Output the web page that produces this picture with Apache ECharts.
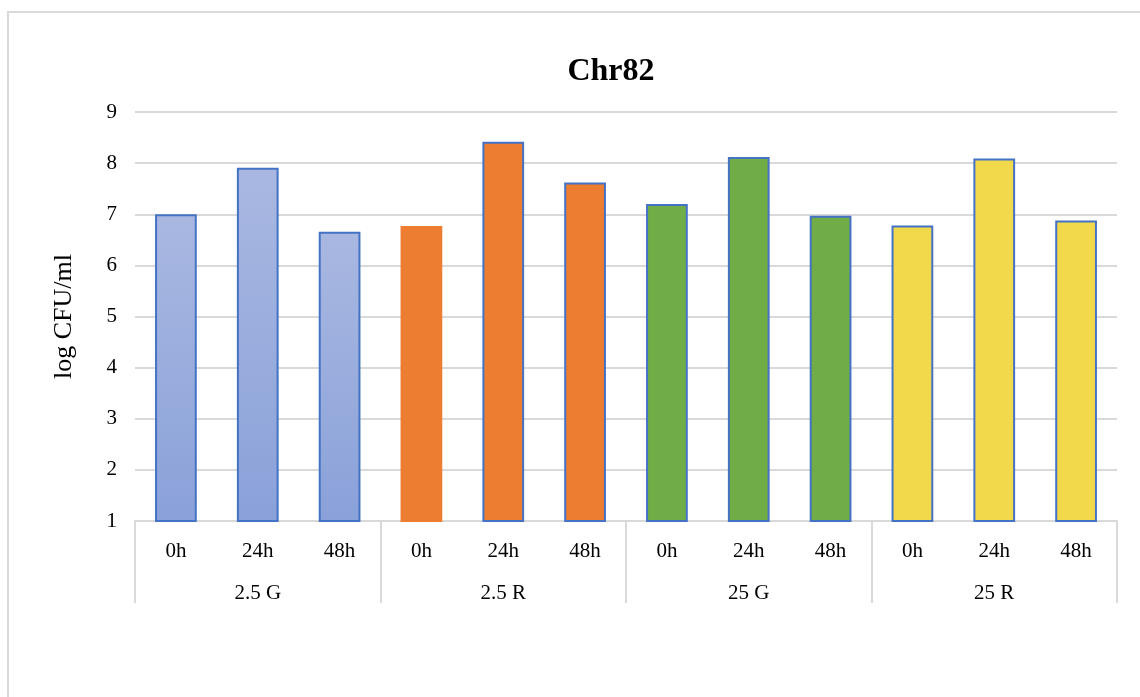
<!DOCTYPE html>
<html>
<head>
<meta charset="utf-8">
<script src="https://cdn.jsdelivr.net/npm/echarts@6/dist/echarts.min.js"></script>
<style>
  html, body { margin: 0; padding: 0; background: #fff; }
  #chart { width: 1140px; height: 697px; }
</style>
</head>
<body>
<div id="chart"></div>
<script>
// Sampling times within each treatment group
const times = ['0h', '24h', '48h'];
// Treatment groups
const groups = ['2.5 G', '2.5 R', '25 G', '25 R'];
// log CFU/ml per group, in the order of `times`
const vals25G = [7.00, 7.91, 6.66];
const vals25R = [6.77, 8.42, 7.62];
const vals250G = [7.20, 8.12, 6.97];
const vals250R = [6.78, 8.09, 6.88];
// Y axis range and step
const yMin = 1, yMax = 9, yStep = 1;

const groupValues = [vals25G, vals25R, vals250G, vals250R];

// Fill and outline for each group
const blueFill = new echarts.graphic.LinearGradient(0, 0, 0, 1, [
  { offset: 0, color: '#A9B8E1' },
  { offset: 1, color: '#8AA1D9' }
]);
const groupStyles = [
  { color: blueFill, borderColor: '#4472C4' },
  { color: '#ED7D31', borderColor: '#4472C4' },
  { color: '#70AD47', borderColor: '#4472C4' },
  { color: '#F2D94B', borderColor: '#4472C4' }
];

const categories = [];
const barData = [];
groupValues.forEach((vals, g) => {
  vals.forEach((v, i) => {
    categories.push(times[i]);
    const style = Object.assign({ borderWidth: 2 }, groupStyles[g]);
    // first orange bar is drawn without the blue outline
    if (g === 1 && i === 0) style.borderColor = '#ED7D31';
    barData.push({ value: v, itemStyle: style });
  });
});

const serif = '"Liberation Serif", "Times New Roman", serif';
const gridGray = '#D9D9D9';

const chart = echarts.init(document.getElementById('chart'));
chart.setOption({
  animation: false,
  backgroundColor: '#fff',
  textStyle: { fontFamily: serif },
  title: {
    text: 'Chr82',
    left: 606,
    top: 51,
    textAlign: 'center',
    textStyle: { fontFamily: serif, fontSize: 32, fontWeight: 'bold', color: '#000' }
  },
  graphic: [{
    type: 'rect',
    shape: { x: 8, y: 12, width: 1160, height: 720 },
    style: { fill: 'none', stroke: gridGray, lineWidth: 2 },
    silent: true,
    z: -1
  }],
  grid: { left: 135, right: 23, top: 112, bottom: 176, containLabel: false },
  xAxis: [{
    type: 'category',
    data: categories,
    position: 'bottom',
    axisLine: { show: true, lineStyle: { color: gridGray, width: 2 } },
    axisTick: { show: false },
    axisLabel: { margin: 20, fontSize: 21, color: '#000', fontFamily: serif, interval: 0 }
  }, {
    type: 'category',
    data: groups,
    position: 'bottom',
    axisLine: { show: false },
    axisTick: { show: true, length: 82, lineStyle: { color: gridGray, width: 2 } },
    axisLabel: { margin: 62, fontSize: 21, color: '#000', fontFamily: serif, interval: 0 }
  }],
  yAxis: {
    type: 'value',
    min: yMin,
    max: yMax,
    interval: yStep,
    name: 'log CFU/ml',
    nameLocation: 'middle',
    nameGap: 58,
    nameTextStyle: { fontSize: 26, color: '#000', fontFamily: serif },
    axisLine: { show: false },
    axisTick: { show: false },
    axisLabel: { margin: 18, fontSize: 21, color: '#000', fontFamily: serif },
    splitLine: { lineStyle: { color: gridGray, width: 2 } }
  },
  series: [{
    type: 'bar',
    xAxisIndex: 0,
    data: barData,
    barWidth: '51%'
  }]
});
</script>
</body>
</html>
